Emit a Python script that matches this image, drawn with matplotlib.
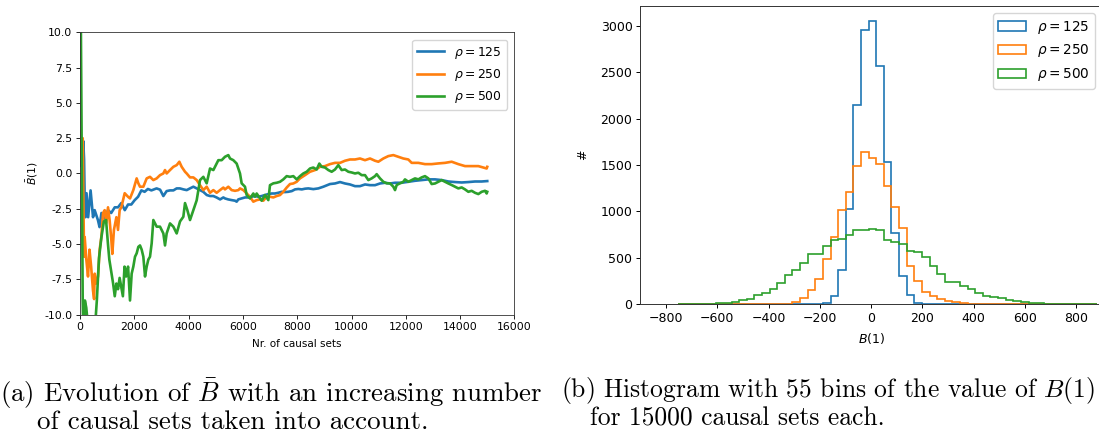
import numpy as np
import matplotlib
matplotlib.use("Agg")
import matplotlib.pyplot as plt

plt.rcParams['mathtext.fontset'] = 'dejavusans'

# ---------------- Left panel: running mean B-bar(1) ----------------
blue_n = [1, 60, 120, 150, 170, 200, 240, 300, 390, 480, 540, 660, 720, 790, 910, 1030,
          1150, 1280, 1400, 1520, 1650, 1770, 1890, 2010, 2140, 2260, 2380, 2500, 2630,
          2820, 2950, 3070, 3190, 3315, 3440, 3560, 3680, 3810, 3930, 4050, 4175, 4300,
          4420, 4540, 4670, 4790, 4910, 5030, 5160, 5280, 5340, 5460, 5590, 5710, 5770,
          5830, 5950, 6080, 6200, 6320, 6450, 6570, 6690, 6810, 6940, 7060, 7180, 7300,
          7430, 7550, 7670, 7800, 7920, 8040, 8170, 8290, 8410, 8594, 8778, 8963, 9208,
          9392, 9577, 9761, 9945, 10129, 10313, 10498, 10682, 10866, 11050, 11235, 11419,
          11603, 11848, 12093, 12339, 12584, 12830, 13076, 13321, 13567, 13812, 14058,
          14304, 14549, 14795, 15000]
blue_v = [1.0, 0.5, 2.3, 1.0, -1.5, -3.1, -1.4, -3.1, -1.2, -3.1, -2.6, -3.3, -3.8, -2.8,
          -3.2, -2.6, -2.8, -2.4, -2.4, -2.1, -2.6, -2.2, -2.2, -1.9, -1.65, -1.2, -1.3,
          -1.1, -1.2, -1.06, -1.15, -1.6, -1.25, -1.2, -1.2, -1.06, -1.06, -1.13, -1.18,
          -1.06, -0.94, -1.06, -1.18, -1.3, -1.53, -1.6, -1.6, -1.7, -1.84, -1.7, -1.77,
          -1.84, -1.89, -1.93, -2.0, -1.84, -1.77, -1.7, -1.7, -1.65, -1.6, -1.65, -1.6,
          -1.53, -1.46, -1.42, -1.42, -1.37, -1.3, -1.32, -1.3, -1.25, -1.13, -1.1, -1.13,
          -1.08, -1.06, -1.11, -1.06, -0.94, -0.75, -0.71, -0.61, -0.71, -0.78, -0.9,
          -0.9, -0.78, -0.83, -0.83, -0.71, -0.66, -0.71, -0.66, -0.66, -0.59, -0.52,
          -0.47, -0.42, -0.42, -0.47, -0.57, -0.61, -0.64, -0.61, -0.57, -0.57, -0.54]

orange_n = [1, 50, 100, 125, 150, 172, 233, 295, 350, 410, 479, 520, 540, 600, 663, 724,
            786, 850, 909, 970, 1032, 1090, 1154, 1190, 1250, 1340, 1400, 1460, 1523,
            1646, 1768, 1842, 1964, 2087, 2149, 2210, 2333, 2456, 2578, 2701, 2824, 2947,
            3070, 3131, 3192, 3315, 3438, 3561, 3659, 3745, 3868, 3929, 4052, 4175, 4298,
            4420, 4543, 4666, 4789, 4912, 5034, 5157, 5280, 5340, 5463, 5586, 5709, 5832,
            5893, 6016, 6139, 6261, 6384, 6507, 6630, 6753, 6875, 6998, 7121, 7244, 7367,
            7489, 7612, 7735, 7858, 7981, 8103, 8287, 8471, 8656, 8840, 9024, 9208, 9392,
            9577, 9761, 9945, 10129, 10313, 10498, 10682, 10866, 10989, 11173, 11357,
            11541, 11725, 11909, 12093, 12216, 12462, 12707, 12953, 13198, 13444, 13690,
            13935, 14181, 14426, 14672, 14856, 14979, 15000]
orange_v = [3.0, 1.0, 2.5, -2.0, -5.9, -4.5, -6.1, -7.3, -5.4, -6.6, -8.3, -8.9, -7.1,
            -7.8, -7.3, -5.4, -4.5, -2.8, -2.6, -3.5, -2.4, -3.3, -4.7, -5.7, -4.0, -3.1,
            -4.0, -2.6, -2.4, -1.4, -1.65, -1.77, -1.18, -0.35, -0.7, -0.94, -0.94, -0.35,
            -0.24, -0.47, -0.35, -0.12, 0.0, 0.24, 0.0, 0.24, 0.47, 0.59, 0.83, 0.47, 0.12,
            0.0, -0.28, -0.28, -0.47, -0.83, -1.18, -0.94, -1.37, -1.18, -1.37, -1.18,
            -1.0, -1.13, -0.94, -1.18, -1.23, -1.18, -1.06, -1.18, -1.42, -1.65, -2.0,
            -1.89, -1.84, -1.93, -1.65, -1.65, -1.7, -1.6, -1.53, -1.3, -1.0, -0.75, -0.71,
            -0.59, -0.35, -0.12, 0.12, 0.24, 0.47, 0.52, 0.66, 0.75, 0.75, 0.9, 0.99, 0.99,
            1.06, 0.94, 1.06, 0.9, 0.83, 1.06, 1.23, 1.3, 1.18, 1.06, 0.99, 0.75, 0.75,
            0.66, 0.66, 0.71, 0.75, 0.83, 0.66, 0.52, 0.52, 0.52, 0.42, 0.35, 0.47]

green_n = [1, 20, 40, 60, 80, 100, 130, 180, 230, 280, 330, 450, 550, 620, 700, 790, 880,
           960, 1030, 1080, 1160, 1220, 1280, 1340, 1400, 1460, 1580, 1640, 1700, 1770,
           1842, 1903, 1964, 2026, 2087, 2149, 2210, 2272, 2333, 2395, 2456, 2517, 2578,
           2640, 2701, 2824, 2947, 3070, 3131, 3192, 3315, 3438, 3561, 3684, 3806, 3868,
           3954, 4052, 4175, 4298, 4420, 4543, 4666, 4789, 4912, 5034, 5095, 5218, 5340,
           5463, 5525, 5647, 5770, 5893, 5954, 6077, 6139, 6261, 6384, 6446, 6507, 6630,
           6691, 6814, 6937, 6998, 7121, 7244, 7367, 7489, 7612, 7735, 7858, 7981, 8103,
           8226, 8349, 8471, 8594, 8717, 8815, 8901, 9024, 9147, 9270, 9392, 9515, 9638,
           9761, 9884, 10006, 10129, 10252, 10375, 10498, 10620, 10743, 10866, 10927,
           11050, 11173, 11296, 11419, 11541, 11603, 11664, 11786, 11909, 11970, 12093,
           12216, 12339, 12462, 12584, 12707, 12830, 12953, 13076, 13198, 13321, 13444,
           13567, 13690, 13812, 13935, 14058, 14181, 14304, 14426, 14549, 14672, 14795,
           14918, 14979, 15000]
green_v = [40.0, 14.0, 8.0, 2.0, -4.0, -9.0, -12.0, -9.0, -9.5, -10.5, -12.0, -12.0,
           -11.0, -9.0, -6.0, -4.5, -3.4, -3.3, -5.0, -6.1, -7.1, -7.8, -8.7, -7.8, -8.2,
           -7.4, -8.7, -6.6, -7.3, -6.6, -9.0, -7.1, -6.6, -5.9, -5.66, -5.2, -5.1, -5.4,
           -5.9, -7.3, -6.6, -6.1, -5.9, -4.95, -3.3, -3.77, -3.77, -4.25, -5.1, -4.25,
           -3.54, -3.77, -4.25, -3.4, -3.07, -2.1, -2.6, -3.3, -2.6, -1.9, -0.47, -0.24,
           -0.7, 0.35, 0.24, 0.7, 0.94, 0.94, 1.18, 1.3, 1.06, 0.94, 0.7, 0.0, -0.7,
           -0.94, -1.53, -1.77, -1.42, -1.65, -1.42, -1.77, -1.93, -1.53, -1.89, -0.83,
           -0.7, -0.66, -0.59, -0.42, -0.19, -0.24, -0.19, -0.42, -0.19, 0.0, 0.12, 0.35,
           0.42, 0.28, 0.7, 0.47, 0.42, 0.24, 0.12, 0.28, 0.59, 0.24, 0.28, 0.12, 0.07,
           0.0, 0.05, -0.12, -0.12, -0.47, -0.35, -0.19, -0.05, -0.35, -0.59, -0.7, -0.7,
           -0.94, -1.18, -0.82, -0.7, -0.59, -0.42, -0.59, -0.47, -0.35, -0.42, -0.28,
           -0.19, -0.35, -0.75, -0.71, -0.59, -0.47, -0.59, -0.71, -0.82, -0.94, -1.06,
           -0.99, -1.13, -1.3, -1.23, -1.37, -1.46, -1.3, -1.23, -1.42, -1.3]

labels = [r'$\rho = 125$', r'$\rho = 250$', r'$\rho = 500$']
colors = ['#1f77b4', '#ff7f0e', '#2ca02c']

# ---------------- Right panel: histogram (55 bins) ----------------
bin_lo, bin_hi, n_bins = -752.5, 881.0, 55
counts_125 = [0]*18 + [3, 18, 86, 366, 1029, 2150, 2953, 3054, 2566, 1530, 771, 305, 97,
                       18, 7, 2] + [0]*21
counts_250 = [0]*12 + [1, 3, 7, 25, 72, 154, 272, 484, 728, 1011, 1208, 1484, 1638, 1573,
                       1512, 1269, 1050, 821, 412, 251, 133, 90, 57, 36, 25, 14, 7, 3, 1] + [0]*14
counts_500 = [2, 3, 4, 4, 6, 10, 17, 25, 47, 61, 104, 118, 165, 233, 312, 369, 441, 541,
              545, 624, 692, 702, 742, 803, 799, 814, 799, 692, 667, 645, 577, 566, 513,
              416, 326, 244, 237, 197, 161, 125, 90, 79, 65, 50, 36, 29, 18, 11, 8, 6, 4,
              3, 2, 1, 1]

fig = plt.figure(figsize=(10.99, 4.34), dpi=100)

tick_fs_l = 7.8
ax1 = fig.add_axes([80/1099, 1 - 314.6/434, 434.4/1099, 282.3/434])
for nn, vv, c, lab in zip([blue_n, orange_n, green_n], [blue_v, orange_v, green_v], colors, labels):
    ax1.plot(nn, vv, color=c, lw=1.9, label=lab)
ax1.set_xlim(0, 16000)
ax1.set_ylim(-10, 10)
ax1.set_xticks(np.arange(0, 16001, 2000))
ax1.set_yticks(np.arange(-10, 10.01, 2.5))
ax1.yaxis.set_major_formatter(matplotlib.ticker.FormatStrFormatter('%.1f'))
ax1.tick_params(labelsize=tick_fs_l, length=2.6, width=0.6, pad=3)
ax1.set_xlabel('Nr. of causal sets', fontsize=tick_fs_l - 0.3, labelpad=5)
ax1.set_ylabel(r'$\bar{B}(1)$', fontsize=tick_fs_l, labelpad=3)
ax1.legend(loc='upper right', fontsize=8.9, handlelength=2.2, borderaxespad=0.6)
for s in ax1.spines.values():
    s.set_linewidth(0.6)
    s.set_color('#333333')

tick_fs_r = 9.0
ax2 = fig.add_axes([640.4/1099, 1 - 304.3/434, 461.6/1099, 298.6/434])
edges = np.linspace(bin_lo, bin_hi, n_bins + 1)
centers = 0.5 * (edges[:-1] + edges[1:])
for cnt, c, lab in zip([counts_125, counts_250, counts_500], colors, labels):
    ax2.hist(centers, bins=edges, weights=cnt, histtype='step', color=c, lw=1.2, label=lab)
ax2.set_xlim(-900, 900)
ax2.set_ylim(0, 3215)
ax2.set_xticks(np.arange(-800, 801, 200))
ax2.set_yticks(np.arange(0, 3001, 500))
ax2.tick_params(labelsize=tick_fs_r, length=3.2, width=0.7, pad=2.5)
ax2.set_xlabel(r'$B(1)$', fontsize=tick_fs_r, labelpad=4)
ax2.set_ylabel('#', fontsize=tick_fs_r, labelpad=8)
ax2.legend(loc='upper right', fontsize=9.8, borderaxespad=0.55)
for s in ax2.spines.values():
    s.set_linewidth(0.7)
    s.set_color('#333333')

# ---------------- Captions ----------------
cap_kw = dict(family='cmr10', math_fontfamily='cm', va='baseline', ha='left')
fig.text(0/1099, 1 - 402/434, r'(a) Evolution of $\bar{B}$ with an increasing number',
         fontsize=19.4, **cap_kw)
fig.text(37/1099, 1 - 429/434, 'of causal sets taken into account.', fontsize=19.4, **cap_kw)
fig.text(561/1099, 1 - 397/434, r'(b) Histogram with 55 bins of the value of $B(1)$',
         fontsize=18.4, **cap_kw)
fig.text(590/1099, 1 - 425/434, 'for 15000 causal sets each.', fontsize=18.4, **cap_kw)

fig.savefig('out.png', dpi=100)
